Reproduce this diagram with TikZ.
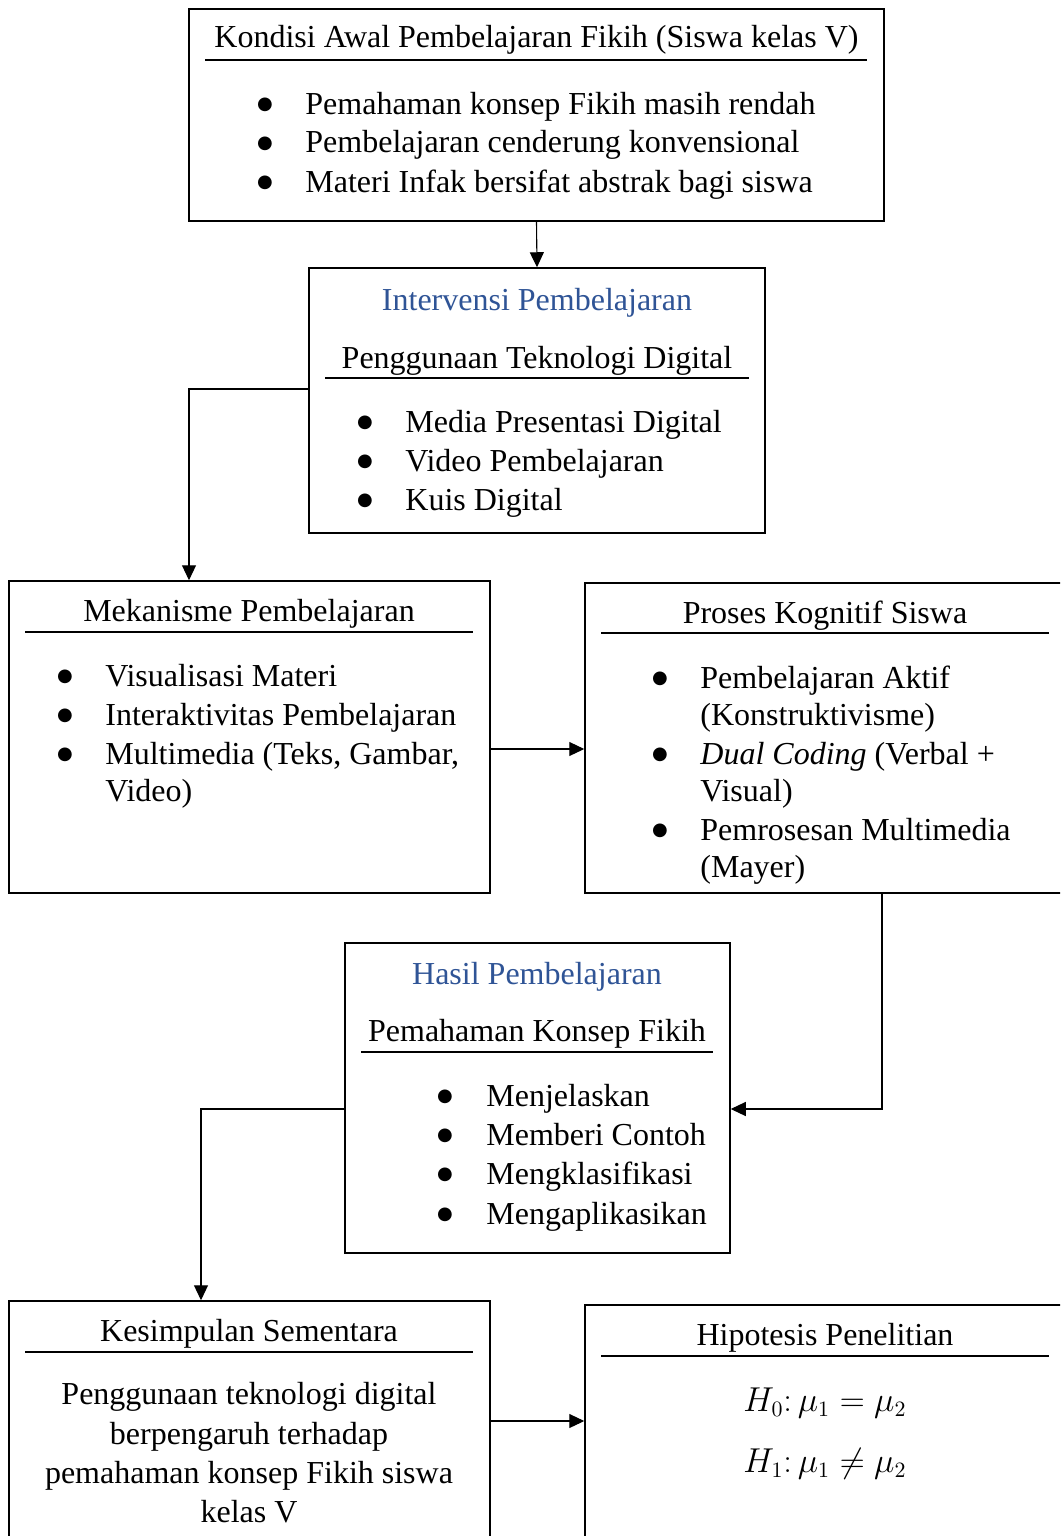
\documentclass[tikz,border=0pt]{standalone}
\usepackage{fontspec}
\setmainfont{Liberation Serif}
\newfontfamily\symfnt{DejaVu Sans}
\usetikzlibrary{fit,arrows.meta}
\definecolor{titleblue}{RGB}{47,84,150}
\newcommand\fsz{\fontsize{16}{19}\selectfont}
\newcommand\bsz{\symfnt\fontsize{9}{9}\selectfont}
\begin{document}
\begin{tikzpicture}[x=0.5pt,y=-0.5pt,
 box/.style={draw, line width=0.75pt, inner sep=0pt, rectangle},
 rulel/.style={line width=0.75pt},
 conn/.style={line width=0.55pt, -{Triangle[length=7.5pt,width=7pt]}},
 txt/.style={inner sep=0pt, font=\fsz},
 head/.style={txt, anchor=base},
 btxt/.style={txt, anchor=base west},
 bul/.style={inner sep=0pt, font=\bsz, anchor=center, yshift=4.5pt},
 bluetitle/.style={txt, anchor=base, text=titleblue}]
\useasboundingbox (0,0) rectangle (1060,1536);
\fill[white] (0,0) rectangle (1060,1536);
\clip (0,0) rectangle (1060,1536);

% ---------- Box 1
\node[box, fit={(189,9)(884,221)}] (b1) {};
\node[head] (b1t) at (536.5,48) {Kondisi Awal Pembelajaran Fikih (Siswa kelas V)};
\draw[rulel] (205,60) -- (867,60);
\node[bul] (b1p1) at (265,114) {●};
\node[bul] (b1p2) at (265,153) {●};
\node[bul] (b1p3) at (265,192) {●};
\node[btxt] (b1l1) at (305,114) {Pemahaman konsep Fikih masih rendah};
\node[btxt] (b1l2) at (305,153) {Pembelajaran cenderung konvensional};
\node[btxt] (b1l3) at (305,192) {Materi Infak bersifat abstrak bagi siswa};

% ---------- Box 2
\node[box, fit={(309,268)(765,533)}] (b2) {};
\node[bluetitle] (b2b) at (537,310) {Intervensi Pembelajaran};
\node[head] (b2t) at (537,368) {Penggunaan Teknologi Digital};
\draw[rulel] (325,378) -- (749,378);
\node[bul] (b2p1) at (365,432) {●};
\node[bul] (b2p2) at (365,471) {●};
\node[bul] (b2p3) at (365,510) {●};
\node[btxt] (b2l1) at (405,432) {Media Presentasi Digital};
\node[btxt] (b2l2) at (405,471) {Video Pembelajaran};
\node[btxt] (b2l3) at (405,510) {Kuis Digital};

% ---------- Box 3
\node[box, fit={(9,581)(490,893)}] (b3) {};
\node[head] (b3t) at (249,621) {Mekanisme Pembelajaran};
\draw[rulel] (25,632) -- (473,632);
\node[bul] (b3p1) at (65,686) {●};
\node[bul] (b3p2) at (65,725) {●};
\node[bul] (b3p3) at (65,764) {●};
\node[btxt] (b3l1) at (105,686) {Visualisasi Materi};
\node[btxt] (b3l2) at (105,725) {Interaktivitas Pembelajaran};
\node[btxt] (b3l3) at (105,764) {Multimedia (Teks, Gambar,};
\node[btxt] (b3l4) at (105,801) {Video)};

% ---------- Box 4
\node[box, fit={(585,583)(1065,893)}] (b4) {};
\node[head] (b4t) at (825,623) {Proses Kognitif Siswa};
\draw[rulel] (601,633) -- (1049,633);
\node[bul] (b4p1) at (660,688) {●};
\node[bul] (b4p2) at (660,764) {●};
\node[bul] (b4p3) at (660,840) {●};
\node[btxt] (b4l1) at (700,688) {Pembelajaran Aktif};
\node[btxt] (b4l2) at (700,725) {(Konstruktivisme)};
\node[btxt] (b4l3) at (700,764) {\textit{Dual Coding} (Verbal +};
\node[btxt] (b4l4) at (700,801) {Visual)};
\node[btxt] (b4l5) at (700,840) {Pemrosesan Multimedia};
\node[btxt] (b4l6) at (700,877) {(Mayer)};

% ---------- Box 5
\node[box, fit={(345,943)(730,1253)}] (b5) {};
\node[bluetitle] (b5b) at (537,984) {Hasil Pembelajaran};
\node[head] (b5t) at (537,1041) {Pemahaman Konsep Fikih};
\draw[rulel] (361,1052) -- (713,1052);
\node[bul] (b5p1) at (445,1106) {●};
\node[bul] (b5p2) at (445,1145) {●};
\node[bul] (b5p3) at (445,1184) {●};
\node[bul] (b5p4) at (445,1224) {●};
\node[btxt] (b5l1) at (486,1106) {Menjelaskan};
\node[btxt] (b5l2) at (486,1145) {Memberi Contoh};
\node[btxt] (b5l3) at (486,1184) {Mengklasifikasi};
\node[btxt] (b5l4) at (486,1224) {Mengaplikasikan};

% ---------- Box 6
\node[box, fit={(9,1301)(490,1570)}] (b6) {};
\node[head] (b6t) at (249,1341) {Kesimpulan Sementara};
\draw[rulel] (25,1352) -- (473,1352);
\node[head] (b6l1) at (249,1404) {Penggunaan teknologi digital};
\node[head] (b6l2) at (249,1444) {berpengaruh terhadap};
\node[head] (b6l3) at (249,1483) {pemahaman konsep Fikih siswa};
\node[head] (b6l4) at (249,1522) {kelas V};

% ---------- Box 7
\node[box, fit={(585,1305)(1065,1570)}] (b7) {};
\node[head] (b7t) at (825,1345) {Hipotesis Penelitian};
\draw[rulel] (601,1356) -- (1049,1356);
\node[head] (b7l1) at (825,1411) {$H_0{:}\,\mu_1 = \mu_2$};
\node[head] (b7l2) at (825,1472) {$H_1{:}\,\mu_1 \neq \mu_2$};

% ---------- Connectors
\coordinate (c2a) at (b2.west |- 0,389);
\coordinate (c2b) at (189,389);
\coordinate (c2c) at (b3.north -| 189,0);
\coordinate (c3a) at (b3.east |- 0,749);
\coordinate (c3b) at (b4.west |- 0,749);
\coordinate (c4a) at (b4.south -| 882,0);
\coordinate (c4b) at (882,1109);
\coordinate (c4c) at (b5.east |- 0,1109);
\coordinate (c5a) at (b5.west |- 0,1109);
\coordinate (c5b) at (201,1109);
\coordinate (c5c) at (b6.north -| 201,0);
\coordinate (c6a) at (b6.east |- 0,1421);
\coordinate (c6b) at (b7.west |- 0,1421);

\draw[conn] (b1.south) -- (b2.north);
\draw[conn] (c2a) -- (c2b) -- (c2c);
\draw[conn] (c3a) -- (c3b);
\draw[conn] (c4a) -- (c4b) -- (c4c);
\draw[conn] (c5a) -- (c5b) -- (c5c);
\draw[conn] (c6a) -- (c6b);
\end{tikzpicture}
\end{document}
